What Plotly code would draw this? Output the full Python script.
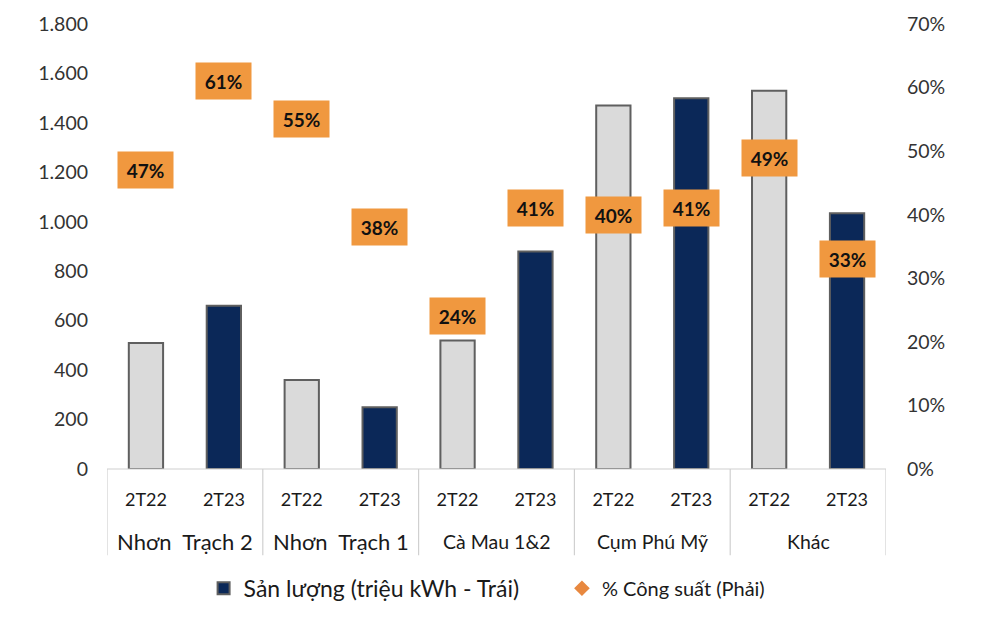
import plotly.graph_objects as go

groups = ["Nhơn  Trạch 2", "Nhơn  Trạch 1", "Cà Mau 1&2", "Cụm Phú Mỹ", "Khác"]
periods = ["2T22", "2T23"]
output_2t22 = [510, 360, 520, 1470, 1530]
output_2t23 = [660, 250, 880, 1500, 1035]
cap_2t22 = [0.47, 0.55, 0.24, 0.40, 0.49]
cap_2t23 = [0.61, 0.38, 0.41, 0.41, 0.33]
group_font_sizes = [22, 22, 19.5, 19.5, 19.5]

FONT = "Lato"
GRAY_FILL = "#DADADA"
NAVY = "#0B2858"
EDGE = "#5F5F5F"
ORANGE = "#F0983F"

n = len(groups)
x22 = [2 * i for i in range(n)]
x23 = [2 * i + 1 for i in range(n)]

fig = go.Figure()
fig.add_trace(go.Bar(x=x22, y=output_2t22, marker=dict(color=GRAY_FILL, line=dict(color=EDGE, width=2)),
                     width=0.44, showlegend=False, name="2T22"))
fig.add_trace(go.Bar(x=x23, y=output_2t23, marker=dict(color=NAVY, line=dict(color=EDGE, width=2)),
                     width=0.44, name="Sản lượng (triệu kWh - Trái)", legend="legend"))

xs_all = []
cap_all = []
for i in range(n):
    xs_all += [x22[i], x23[i]]
    cap_all += [cap_2t22[i], cap_2t23[i]]

fig.add_trace(go.Scatter(x=xs_all, y=cap_all, yaxis="y2", mode="markers",
                         marker=dict(symbol="diamond", color="#E8883F", size=12),
                         name="% Công suất (Phải)", legend="legend2"))

annotations = []
for xv, cv in zip(xs_all, cap_all):
    annotations.append(dict(x=xv, y=cv, xref="x", yref="y2", text="<b>%d%%</b>" % round(cv * 100),
                            showarrow=False, bgcolor=ORANGE, width=53, height=34,
                            font=dict(family=FONT, size=19, color="#111111")))

shapes = []
for i in range(n):
    annotations.append(dict(x=2 * i + 0.5, y=-0.163, xref="x", yref="paper", text=groups[i],
                            showarrow=False, yanchor="middle",
                            font=dict(family=FONT, size=group_font_sizes[i], color="#1a1a1a")))
for b in range(n + 1):
    shapes.append(dict(type="line", xref="x", yref="paper", x0=2 * b - 0.5, x1=2 * b - 0.5,
                       y0=0, y1=-0.194, line=dict(color="#D0D0D0", width=1.2)))
shapes.append(dict(type="line", xref="paper", yref="paper", x0=0, x1=1, y0=0, y1=0,
                   line=dict(color="#D0D0D0", width=1.2)))

fig.update_layout(
    width=1000, height=622,
    margin=dict(l=107, r=114, t=20, b=151),
    paper_bgcolor="white", plot_bgcolor="white",
    separators=",.",
    barmode="overlay",
    font=dict(family=FONT, size=17, color="#333333"),
    xaxis=dict(range=[-0.5, 2 * n - 0.5], tickvals=list(range(2 * n)),
               ticktext=periods * n, showgrid=False, zeroline=False, showline=False,
               ticks="", ticklabelstandoff=18, tickfont=dict(family=FONT, size=18, color="#1a1a1a")),
    yaxis=dict(range=[0, 1800], dtick=200, tickformat=",d", showgrid=False, zeroline=False,
               showline=False, ticks="", ticklabelstandoff=18,
               tickfont=dict(family=FONT, size=19.5, color="#333333")),
    yaxis2=dict(range=[0, 0.7], dtick=0.1, tickformat=".0%", overlaying="y", side="right",
                showgrid=False, zeroline=False, showline=False, ticks="", ticklabelstandoff=20,
                tickfont=dict(family=FONT, size=19.5, color="#333333")),
    legend=dict(orientation="h", x=0.124, xanchor="left", y=-0.268, yanchor="middle",
                font=dict(family=FONT, size=23, color="#1a1a1a"), itemwidth=30,
                bgcolor="rgba(0,0,0,0)"),
    legend2=dict(orientation="h", x=0.584, xanchor="left", y=-0.268, yanchor="middle",
                 font=dict(family=FONT, size=20, color="#1a1a1a"), itemwidth=30,
                 bgcolor="rgba(0,0,0,0)"),
    annotations=annotations,
    shapes=shapes,
)

fig.write_html("out.html")
